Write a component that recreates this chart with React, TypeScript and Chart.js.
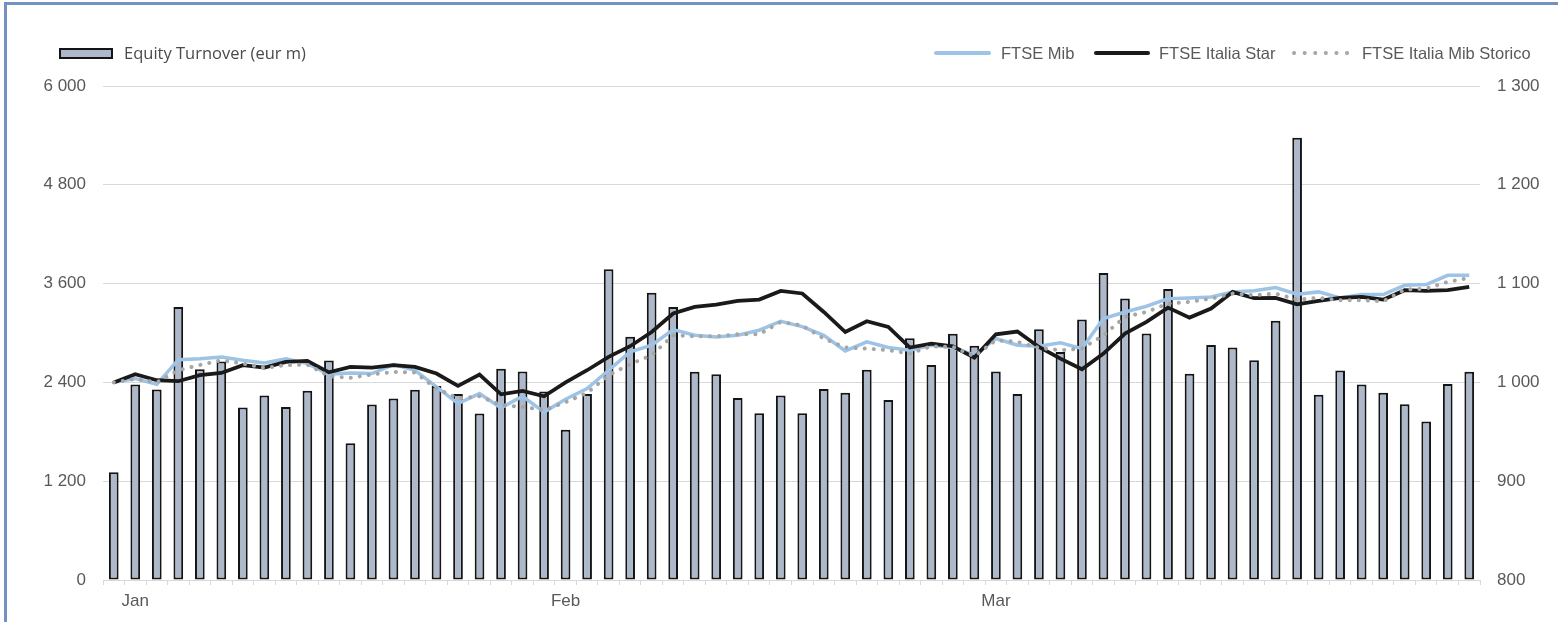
import React, { useEffect, useRef } from "react";
import { Chart, registerables } from "chart.js";

Chart.register(...registerables);

// ---- data ----
const categories: string[] = Array.from({ length: 64 }, () => "");
categories[1] = "Jan";
categories[21] = "Feb";
categories[41] = "Mar";

const turnover: number[] = [
  1310, 2375, 2315, 3315, 2560, 2655, 2095, 2240, 2100, 2300,
  2665, 1660, 2132, 2203, 2310, 2357, 2260, 2022, 2565, 2532,
  2290, 1825, 2260, 3775, 2955, 3490, 3315, 2530, 2500, 2210,
  2025, 2240, 2025, 2320, 2275, 2555, 2185, 2935, 2610, 2990,
  2845, 2532, 2260, 3045, 2770, 3165, 3730, 3420, 2995, 3535,
  2505, 2855, 2825, 2670, 3150, 5370, 2250, 2545, 2375, 2275,
  2135, 1925, 2380, 2530,
];

const ftseMib: number[] = [
  1000, 1003.9, 998, 1023, 1024, 1025.8, 1022.4, 1019.7, 1024, 1019,
  1008.3, 1009.6, 1009, 1018, 1012.3, 995.5, 978.6, 988.7, 974.2, 986,
  970, 983, 993.8, 1012.3, 1030.9, 1037.6, 1053.5, 1047.7, 1046, 1047.7,
  1052.8, 1061.9, 1056.5, 1047.7, 1031.9, 1041, 1035.3, 1032.6, 1037.6, 1035.3,
  1027.5, 1044.4, 1037.6, 1036.6, 1040, 1034.2, 1064.6, 1071.3, 1077.1, 1084.8,
  1085.5, 1086.5, 1091.6, 1092.8, 1096, 1089.2, 1091.6, 1085.5, 1088.9, 1088.9,
  1098.3, 1099, 1108.4, 1108.4,
];

const ftseStar: number[] = [
  1000, 1008.3, 1002.2, 1001.2, 1007.3, 1009.6, 1017.4, 1015, 1020.8, 1021.8,
  1010.2, 1015.7, 1015, 1017.4, 1015.7, 1009, 996.5, 1008, 988, 991.4,
  986, 1000, 1012.3, 1025.8, 1036.6, 1051, 1069.7, 1076.4, 1078.8, 1082.5,
  1083.8, 1092.6, 1090, 1071.3, 1051, 1061.9, 1056.2, 1035.3, 1039.3, 1036.6,
  1025.1, 1048.7, 1051.5, 1035.9, 1024.1, 1013.3, 1029.2, 1049.4, 1061.2, 1075.7,
  1065.6, 1074.7, 1091.6, 1085.2, 1085.5, 1079.1, 1082.5, 1085.5, 1086.5, 1083.8,
  1093.3, 1092.6, 1093.3, 1096.6,
];

const ftseStorico: number[] = [
  1000, 1003.6, 1000, 1012.3, 1017.6, 1022.4, 1019, 1014.7, 1017.4, 1018,
  1006.3, 1004.6, 1008, 1010.6, 1010, 993.8, 983.8, 986, 977, 975.2,
  971.9, 980, 989.4, 1007.3, 1018.4, 1027.5, 1047.7, 1046.7, 1046.7, 1048.7,
  1048.7, 1061.2, 1057.5, 1044.4, 1035.3, 1034.2, 1032.6, 1029.2, 1036.6, 1035.9,
  1026.5, 1042.7, 1041, 1034.9, 1032.6, 1034.2, 1047.7, 1066.3, 1071.3, 1079.8,
  1081.5, 1084.8, 1089.9, 1088.2, 1089.9, 1083.8, 1085.5, 1083.1, 1083.1, 1082.1,
  1093.9, 1094.9, 1101.7, 1105.7,
];

const leftAxis = { min: 0, max: 6000, step: 1200 };
const rightAxis = { min: 800, max: 1300, step: 100 };

const seriesLabels = {
  bar: "Equity Turnover (eur m)",
  mib: "FTSE Mib",
  star: "FTSE Italia Star",
  storico: "FTSE Italia Mib Storico",
};

const colors = {
  barFill: "#adb9ca",
  barBorder: "#141414",
  mib: "#9dc3e6",
  star: "#1a1a1a",
  storico: "#a6a6a6",
  grid: "#d9d9d9",
  text: "#595959",
  frame: "#7391c3",
};

const fmt = (v: number) =>
  String(Math.round(v)).replace(/\B(?=(\d{3})+(?!\d))/g, " ");

const W = 1558;
const H = 622;

export default function App() {
  const ref = useRef<HTMLCanvasElement | null>(null);

  useEffect(() => {
    if (!ref.current) return;
    const tickFont = { family: '"Liberation Sans", Arial, sans-serif', size: 17 };
    const chart = new Chart(ref.current, {
      type: "bar",
      data: {
        labels: categories,
        datasets: [
          {
            type: "bar",
            label: seriesLabels.bar,
            data: turnover,
            yAxisID: "y",
            backgroundColor: colors.barFill,
            borderColor: colors.barBorder,
            borderWidth: 2,
            borderSkipped: false,
            barPercentage: 0.45,
            categoryPercentage: 1,
            order: 4,
          } as any,
          {
            type: "line",
            label: seriesLabels.mib,
            data: ftseMib,
            yAxisID: "y1",
            borderColor: colors.mib,
            borderWidth: 3.5,
            pointRadius: 0,
            tension: 0,
            order: 3,
          } as any,
          {
            type: "line",
            label: seriesLabels.star,
            data: ftseStar,
            yAxisID: "y1",
            borderColor: colors.star,
            borderWidth: 3.75,
            pointRadius: 0,
            tension: 0,
            order: 2,
          } as any,
          {
            type: "line",
            label: seriesLabels.storico,
            data: ftseStorico,
            yAxisID: "y1",
            borderColor: colors.storico,
            borderWidth: 4,
            borderDash: [0.1, 9],
            borderCapStyle: "round",
            pointRadius: 0,
            tension: 0,
            order: 1,
          } as any,
        ],
      },
      options: {
        responsive: false,
        animation: false,
        layout: { padding: { top: 86, left: 0, right: 0, bottom: 0 } },
        plugins: { legend: { display: false }, tooltip: { enabled: false } },
        scales: {
          x: {
            offset: true,
            grid: {
              offset: true,
              drawOnChartArea: false,
              drawTicks: true,
              tickLength: 5,
              color: colors.grid,
            },
            border: { display: true, color: colors.grid, width: 1 },
            ticks: {
              autoSkip: false,
              maxRotation: 0,
              minRotation: 0,
              padding: 6,
              color: colors.text,
              font: tickFont,
            },
            afterFit: (s: any) => {
              s.height = 42;
            },
          },
          y: {
            position: "left",
            min: leftAxis.min,
            max: leftAxis.max,
            ticks: {
              stepSize: leftAxis.step,
              padding: 17,
              color: colors.text,
              font: tickFont,
              callback: (v: any) => fmt(Number(v)),
            },
            grid: { color: colors.grid, drawTicks: false, lineWidth: 1 },
            border: { display: false },
            afterFit: (s: any) => {
              s.width = 103;
            },
          },
          y1: {
            position: "right",
            min: rightAxis.min,
            max: rightAxis.max,
            ticks: {
              stepSize: rightAxis.step,
              padding: 17,
              color: colors.text,
              font: tickFont,
              callback: (v: any) => fmt(Number(v)),
            },
            grid: { display: false, drawTicks: false },
            border: { display: false },
            afterFit: (s: any) => {
              s.width = 78;
            },
          },
        },
      } as any,
    });
    return () => chart.destroy();
  }, []);

  const legendText: React.CSSProperties = {
    position: "absolute",
    top: 53,
    transform: "translateY(-50%)",
    color: colors.text,
    whiteSpace: "nowrap",
    lineHeight: 1,
  };
  const rightFont = '"Liberation Sans", Arial, sans-serif';

  return (
    <div
      style={{
        position: "fixed",
        left: 0,
        top: 0,
        width: W,
        height: H,
        overflow: "hidden",
        background: "#fff",
      }}
    >
      <div
        style={{
          position: "absolute",
          left: 4,
          top: 2,
          right: -10,
          bottom: -10,
          borderLeft: `3px solid ${colors.frame}`,
          borderTop: `3px solid ${colors.frame}`,
        }}
      />
      <canvas
        ref={ref}
        width={W}
        height={H}
        style={{ position: "absolute", left: 0, top: 0, display: "block" }}
      />
      {/* left legend */}
      <div
        style={{
          position: "absolute",
          left: 59,
          top: 48,
          width: 54,
          height: 11,
          boxSizing: "border-box",
          background: colors.barFill,
          border: `2px solid ${colors.barBorder}`,
        }}
      />
      <div style={{ ...legendText, left: 124, fontFamily: '"Open Sans", sans-serif', fontSize: 16.5, color: "#4a4a4a" }}>
        {seriesLabels.bar}
      </div>
      {/* right legend */}
      <div style={{ position: "absolute", left: 934, top: 51, width: 57, height: 4, borderRadius: 2, background: colors.mib }} />
      <div style={{ ...legendText, left: 1001, fontFamily: rightFont, fontSize: 16.5 }}>{seriesLabels.mib}</div>
      <div style={{ position: "absolute", left: 1094, top: 51, width: 56, height: 4, borderRadius: 2, background: colors.star }} />
      <div style={{ ...legendText, left: 1159, fontFamily: rightFont, fontSize: 16.5 }}>{seriesLabels.star}</div>
      <svg style={{ position: "absolute", left: 1290, top: 45 }} width={62} height={16}>
        <line x1={4} y1={8} x2={58} y2={8} stroke={colors.storico} strokeWidth={4} strokeLinecap="round" strokeDasharray="0.1 10.5" />
      </svg>
      <div style={{ ...legendText, left: 1362, fontFamily: rightFont, fontSize: 16.5 }}>{seriesLabels.storico}</div>
    </div>
  );
}
